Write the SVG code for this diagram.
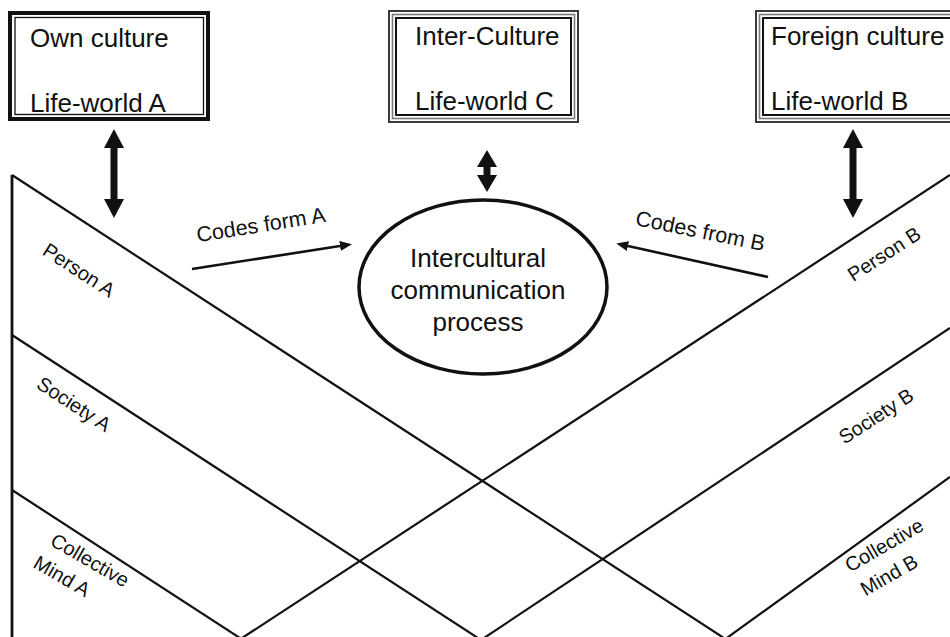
<svg xmlns="http://www.w3.org/2000/svg" width="950" height="637" viewBox="0 0 950 637">
  <style>
    text { font-family: "Liberation Sans", Arial, sans-serif; fill: #111; }
    .box-text { font-size: 26px; }
    .ell-text { font-size: 26px; text-anchor: middle; }
    .code-text { font-size: 21.5px; text-anchor: middle; }
    .layer-text { font-size: 20px; text-anchor: middle; }
    .grid { stroke: #111; stroke-width: 2.2; fill: none; }
    .edge { stroke: #111; stroke-width: 2.8; fill: none; }
    .thick { stroke: #111; fill: none; }
    .tri-out { stroke: #3a3a3a; stroke-width: 2; fill: none; }
    .tri-mid { stroke: #7a7a7a; stroke-width: 1.6; fill: none; }
    .tri-in { stroke: #111; stroke-width: 2; fill: none; }
    .big-arrow { stroke: #111; stroke-width: 7; fill: none; }
    .code-arrow { stroke: #111; stroke-width: 2.6; fill: none; }
  </style>
  <defs>
    <marker id="bighead" markerUnits="userSpaceOnUse" markerWidth="19" markerHeight="20" refX="0" refY="10" orient="auto-start-reverse" viewBox="0 0 19 20">
      <path d="M0,0 L19,10 L0,20 z" fill="#111"/>
    </marker>
    <marker id="midhead" markerUnits="userSpaceOnUse" markerWidth="17" markerHeight="20" refX="0" refY="10" orient="auto-start-reverse" viewBox="0 0 17 20">
      <path d="M0,0 L17,10 L0,20 z" fill="#111"/>
    </marker>
    <marker id="smallhead" markerUnits="userSpaceOnUse" markerWidth="12" markerHeight="10" refX="0" refY="5" orient="auto" viewBox="0 0 12 10">
      <path d="M0,0 L12,5 L0,10 z" fill="#111"/>
    </marker>
  </defs>

  <rect width="950" height="637" fill="#fff"/>

  <!-- crossing layer lines -->
  <g id="layers">
    <line class="edge" x1="12" y1="175" x2="12" y2="640"/>
    <line class="grid" x1="12" y1="175" x2="727" y2="640"/>
    <line class="grid" x1="12" y1="335" x2="481" y2="640"/>
    <line class="grid" x1="12" y1="490" x2="243" y2="640"/>
    <line class="grid" x1="950" y1="175" x2="239" y2="640"/>
    <line class="grid" x1="950" y1="328" x2="481" y2="640"/>
    <line class="grid" x1="950" y1="477" x2="724" y2="640"/>

    <text class="layer-text" transform="translate(79,270) rotate(33)" dy="0.35em">Person A</text>
    <text class="layer-text" transform="translate(74,404) rotate(33)" dy="0.35em">Society A</text>
    <text class="layer-text" transform="translate(90,560) rotate(30)" dy="0.35em">Collective</text>
    <text class="layer-text" transform="translate(62,576) rotate(30)" dy="0.35em">Mind A</text>

    <text class="layer-text" transform="translate(884,254) rotate(-33)" dy="0.35em">Person B</text>
    <text class="layer-text" transform="translate(876,416) rotate(-33)" dy="0.35em">Society B</text>
    <text class="layer-text" transform="translate(884,545) rotate(-30)" dy="0.35em">Collective</text>
    <text class="layer-text" transform="translate(889,575) rotate(-30)" dy="0.35em">Mind B</text>
  </g>

  <!-- life-world boxes -->
  <g id="own-culture">
    <rect class="thick" x="10" y="13" width="198" height="106" stroke-width="4"/>
    <rect class="thick" x="15" y="17.5" width="188.5" height="97" stroke-width="1.3"/>
    <text class="box-text" x="30" y="47">Own culture</text>
    <text class="box-text" x="30" y="112">Life-world A</text>
  </g>

  <g id="inter-culture">
    <rect class="tri-out" x="389" y="11" width="189" height="111"/>
    <rect class="tri-mid" x="392.5" y="14.5" width="182" height="104"/>
    <rect class="tri-in" x="396" y="18" width="175" height="97"/>
    <text class="box-text" x="415" y="45">Inter-Culture</text>
    <text class="box-text" x="415" y="110">Life-world C</text>
  </g>

  <g id="foreign-culture">
    <rect class="tri-out" x="756" y="11" width="210" height="111"/>
    <rect class="tri-mid" x="759.5" y="14.5" width="203" height="104"/>
    <rect class="tri-in" x="763" y="18" width="196" height="97"/>
    <text class="box-text" x="771" y="45">Foreign culture</text>
    <text class="box-text" x="771" y="110">Life-world B</text>
  </g>

  <!-- central process -->
  <g id="process">
    <ellipse cx="483" cy="287" rx="124" ry="87" fill="#fff" stroke="#111" stroke-width="3.5"/>
    <text class="ell-text" x="478" y="267">Intercultural</text>
    <text class="ell-text" x="478" y="299">communication</text>
    <text class="ell-text" x="478" y="331">process</text>
  </g>

  <!-- connectors -->
  <g id="connectors">
    <line class="big-arrow" x1="114" y1="148" x2="114" y2="199" marker-start="url(#bighead)" marker-end="url(#bighead)"/>
    <line class="big-arrow" x1="487" y1="167" x2="487" y2="175" marker-start="url(#midhead)" marker-end="url(#midhead)"/>
    <line class="big-arrow" x1="853" y1="148" x2="853" y2="199" marker-start="url(#bighead)" marker-end="url(#bighead)"/>

    <line class="code-arrow" x1="192" y1="269" x2="340" y2="246" marker-end="url(#smallhead)"/>
    <text class="code-text" transform="translate(262,232) rotate(-9)">Codes form A</text>

    <line class="code-arrow" x1="768" y1="277" x2="628" y2="246" marker-end="url(#smallhead)"/>
    <text class="code-text" transform="translate(699,238) rotate(11.5)">Codes from B</text>
  </g>
</svg>
